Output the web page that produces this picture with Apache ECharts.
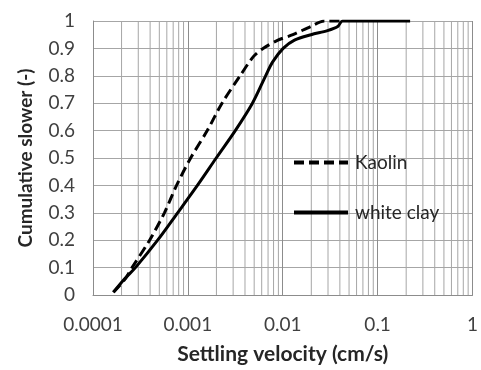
<!DOCTYPE html>
<html>
<head>
<meta charset="utf-8">
<script src="https://cdn.jsdelivr.net/npm/echarts@6/dist/echarts.min.js"></script>
<style>html,body{margin:0;padding:0;background:#fff;}#c{width:481px;height:370px;}</style>
</head>
<body>
<div id="c"></div>
<script>
// Data
const seriesNames = ['Kaolin', 'white clay'];
const kaolinV = [0.000164, 0.00022, 0.000258, 0.000395, 0.000566, 0.00076, 0.00107, 0.0016, 0.00229, 0.00355, 0.0049, 0.0062, 0.0089, 0.0128, 0.0197, 0.0275, 0.042];
const kaolinY = [0.01, 0.06, 0.1, 0.2, 0.3, 0.4, 0.5, 0.6, 0.7, 0.8, 0.87, 0.9, 0.93, 0.95, 0.98, 1.0, 1.0];
const clayV = [0.000164, 0.000217, 0.00028, 0.00048, 0.00078, 0.00126, 0.00199, 0.00316, 0.00479, 0.0066, 0.0078, 0.0101, 0.0133, 0.0199, 0.0296, 0.038, 0.0427, 0.22];
const clayY = [0.01, 0.06, 0.1, 0.2, 0.3, 0.4, 0.5, 0.6, 0.7, 0.8, 0.85, 0.9, 0.93, 0.95, 0.965, 0.98, 1.0, 1.0];
const xTickLabels = ['0.0001', '0.001', '0.01', '0.1', '1'];
const yTickLabels = ['0', '0.1', '0.2', '0.3', '0.4', '0.5', '0.6', '0.7', '0.8', '0.9', '1'];
const minorGridValues = [
  0.0002, 0.0003, 0.0004, 0.0005, 0.0006, 0.0007, 0.0008, 0.0009,
  0.002, 0.003, 0.004, 0.005, 0.006, 0.007, 0.008, 0.009,
  0.02, 0.03, 0.04, 0.05, 0.06, 0.07, 0.08, 0.09,
  0.2, 0.3, 0.4, 0.5, 0.6, 0.7, 0.8, 0.9
];

const pair = (xs, ys) => xs.map((x, i) => [x, ys[i]]);
const font = 'Lato';
const chart = echarts.init(document.getElementById('c'));
const legendCommon = {
  left: 287, itemWidth: 54, itemHeight: 14, itemGap: 0,
  itemStyle: { opacity: 0 },
  lineStyle: { width: 4 },
  textStyle: { fontFamily: font, fontSize: 19, color: '#262626', padding: [0, 0, 0, 2] }
};
chart.setOption({
  animation: false,
  backgroundColor: '#fff',
  grid: { left: 93, right: 5, top: 21, bottom: 72, containLabel: false },
  xAxis: {
    type: 'log', logBase: 10, min: 0.0001, max: 1,
    name: 'Settling velocity (cm/s)', nameLocation: 'middle', nameGap: 49,
    nameTextStyle: { fontFamily: font, fontWeight: 'bold', fontSize: 21, color: '#262626' },
    axisLine: { show: true, lineStyle: { color: '#8c8c8c', width: 1 } },
    axisTick: { show: false },
    axisLabel: { fontFamily: font, fontSize: 19, color: '#404040', margin: 20,
      formatter: (v) => xTickLabels[Math.round(Math.log10(v)) + 4] },
    splitLine: { show: true, lineStyle: { color: '#8c8c8c', width: 1 } }
  },
  yAxis: {
    type: 'value', min: 0, max: 1, interval: 0.1,
    name: 'Cumulative slower (-)', nameLocation: 'middle', nameGap: 58,
    nameTextStyle: { fontFamily: font, fontWeight: 'bold', fontSize: 19, color: '#262626' },
    axisLine: { show: true, lineStyle: { color: '#8c8c8c', width: 1 } },
    axisTick: { show: false },
    axisLabel: { fontFamily: font, fontSize: 19, color: '#404040', margin: 18,
      formatter: (v) => yTickLabels[Math.round(v * 10)] },
    splitLine: { show: true, lineStyle: { color: '#a6a6a6', width: 1 } }
  },
  legend: [
    Object.assign({ data: ['Kaolin'], top: 148 }, legendCommon),
    Object.assign({ data: ['white clay'], top: 198 }, legendCommon)
  ],
  series: [
    { type: 'custom', name: 'minor', silent: true, z: 1,
      data: minorGridValues.map(v => [v]),
      encode: { x: 0 },
      renderItem: (params, api) => {
        const v = api.value(0);
        const p0 = api.coord([v, 0]);
        const p1 = api.coord([v, 1]);
        return { type: 'line', shape: { x1: p0[0], y1: p0[1], x2: p1[0], y2: p1[1] },
          style: { stroke: '#a6a6a6', lineWidth: 1 } };
      } },
    { type: 'line', name: seriesNames[0], data: pair(kaolinV, kaolinY), symbol: 'none', smooth: 0.3, z: 3,
      lineStyle: { color: '#000', width: 3, type: [10, 5] }, itemStyle: { color: '#000' } },
    { type: 'line', name: seriesNames[1], data: pair(clayV, clayY), symbol: 'none', smooth: 0.3, z: 4,
      lineStyle: { color: '#000', width: 3 }, itemStyle: { color: '#000' } }
  ]
});
</script>
</body>
</html>
